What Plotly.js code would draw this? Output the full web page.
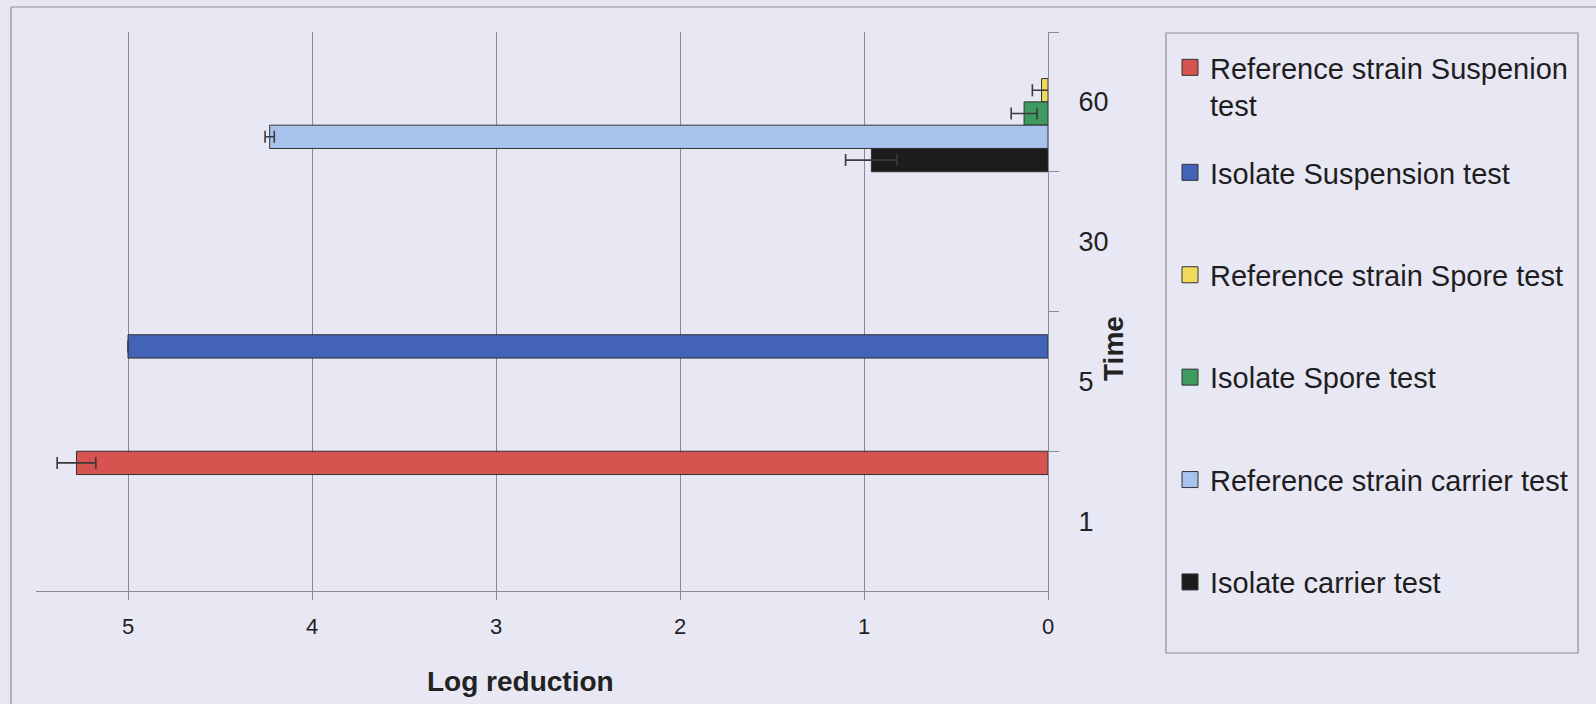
<!DOCTYPE html>
<html>
<head>
<meta charset="utf-8">
<script src="https://cdn.plot.ly/plotly-3.0.1.min.js"></script>
<style>
  html, body { margin: 0; padding: 0; background: #e8e8f4; }
  #chart { width: 1596px; height: 704px; }
</style>
</head>
<body>
<div id="chart"></div>
<script>
// Exposure time categories (minutes), bottom to top
const times = ['1', '5', '30', '60'];

// Log reduction per time point, one array per test
const refSuspension    = [5.28, null, null, null];
const isoSuspension    = [null, 5.0,  null, null];
const refSpore         = [null, null, null, 0.035];
const isoSpore         = [null, null, null, 0.13];
const refCarrier       = [null, null, null, 4.23];
const isoCarrier       = [null, null, null, 0.96];

// Error (± log reduction)
const refSuspensionErr = [0.105, null, null, null];
const isoSuspensionErr = [null, 0, null, null];
const refSporeErr      = [null, null, null, 0.05];
const isoSporeErr      = [null, null, null, 0.07];
const refCarrierErr    = [null, null, null, 0.025];
const isoCarrierErr    = [null, null, null, 0.14];

const seriesNames = [
  'Reference strain Suspenion<br>test',
  'Isolate Suspension test',
  'Reference strain Spore test',
  'Isolate Spore test',
  'Reference strain carrier test',
  'Isolate carrier test'
];
const seriesValues = [refSuspension, isoSuspension, refSpore, isoSpore, refCarrier, isoCarrier];
const seriesErrors = [refSuspensionErr, isoSuspensionErr, refSporeErr, isoSporeErr, refCarrierErr, isoCarrierErr];
const seriesColors = ['#d65350', '#4263b8', '#f1da5c', '#3f9a5f', '#a8c3ee', '#1c1c1c'];

const xTicks = [0, 1, 2, 3, 4, 5];

// Plot area in page pixels
const W = 1596, H = 704;
const L = 36, R = 1048, T = 32, B = 591;
const px = v => (v - L) / (R - L);
const py = v => (B - v) / (B - T);

const legendFor = i => (i === 0 ? 'legend' : 'legend2');

const bars = seriesNames.map((name, i) => ({
  type: 'bar',
  orientation: 'h',
  name: name,
  y: times,
  x: seriesValues[i],
  showlegend: false,
  marker: { color: seriesColors[i], line: { color: '#333333', width: 1 } },
  error_x: {
    type: 'data',
    array: seriesErrors[i],
    visible: true,
    color: '#3a3a3a',
    thickness: 1.6,
    width: 6
  },
  hoverinfo: 'x+name'
}));

// Legend keys: square swatches in each series colour
const keys = seriesNames.map((name, i) => ({
  type: 'scatter',
  mode: 'markers',
  name: name,
  x: [null],
  y: [null],
  legend: legendFor(i),
  legendgroup: 'g' + i,
  marker: { symbol: 'square', size: 16, color: seriesColors[i], line: { color: '#333333', width: 1 } },
  hoverinfo: 'skip'
}));

const axisGray = '#8a8a96';
const font = 'Liberation Sans, Arial, sans-serif';

const legendCommon = {
  xref: 'container', yref: 'container',
  xanchor: 'left', yanchor: 'top',
  bgcolor: 'rgba(0,0,0,0)',
  borderwidth: 0,
  valign: 'top',
  itemsizing: 'trace',
  maxheight: 1,
  font: { size: 29, family: font, color: '#1e1e1e' }
};

const layout = {
  width: W,
  height: H,
  paper_bgcolor: '#e8e8f4',
  plot_bgcolor: '#e8e8f4',
  margin: { l: L, r: W - R, t: T, b: H - B, pad: 0 },
  barmode: 'group',
  bargap: 0,
  bargroupgap: 0,
  font: { family: font, color: '#222222' },
  showlegend: true,
  xaxis: {
    range: [5.5, 0],
    tickvals: xTicks,
    ticktext: xTicks.map(String),
    showgrid: true,
    gridcolor: axisGray,
    gridwidth: 1,
    zeroline: false,
    showline: true,
    linecolor: axisGray,
    linewidth: 1,
    ticks: 'outside',
    ticklen: 8,
    tickcolor: axisGray,
    ticklabelstandoff: 8,
    tickfont: { size: 22, color: '#222222' }
  },
  yaxis: {
    type: 'category',
    categoryorder: 'array',
    categoryarray: times.slice().reverse(),
    range: [3.5, -0.5],
    side: 'right',
    showgrid: false,
    zeroline: false,
    showline: true,
    linecolor: axisGray,
    linewidth: 1,
    ticks: 'outside',
    tickson: 'boundaries',
    ticklen: 10,
    tickcolor: axisGray,
    ticklabelstandoff: 24,
    tickfont: { size: 27, color: '#222222' }
  },
  legend: Object.assign({}, legendCommon, { x: 1170 / W, y: 1 - 42 / H }),
  legend2: Object.assign({}, legendCommon, { x: 1170 / W, y: 1 - 147 / H, tracegroupgap: 61.7 }),
  shapes: [
    // outer frame (top and left edges)
    { type: 'line', xref: 'paper', yref: 'paper', x0: px(11), x1: px(W + 5), y0: py(7), y1: py(7),
      line: { color: '#8c8c96', width: 1.2 } },
    { type: 'line', xref: 'paper', yref: 'paper', x0: px(11), x1: px(11), y0: py(7), y1: py(H + 5),
      line: { color: '#8c8c96', width: 1.2 } },
    // legend box
    { type: 'rect', xref: 'paper', yref: 'paper', x0: px(1166), x1: px(1578), y0: py(33), y1: py(653),
      line: { color: '#8c8c96', width: 1.2 }, fillcolor: 'rgba(0,0,0,0)' }
  ],
  annotations: [
    { text: '<b>Log reduction</b>', xref: 'paper', yref: 'paper', x: px(520), y: py(681),
      xanchor: 'center', yanchor: 'middle', showarrow: false,
      font: { size: 28, family: font, color: '#222222' } },
    { text: '<b>Time</b>', xref: 'paper', yref: 'paper', x: px(1113), y: py(349),
      xanchor: 'center', yanchor: 'middle', textangle: -90, showarrow: false,
      font: { size: 28, family: font, color: '#222222' } }
  ]
};

Plotly.newPlot('chart', bars.concat(keys), layout, { displayModeBar: false, staticPlot: true });
</script>
</body>
</html>
